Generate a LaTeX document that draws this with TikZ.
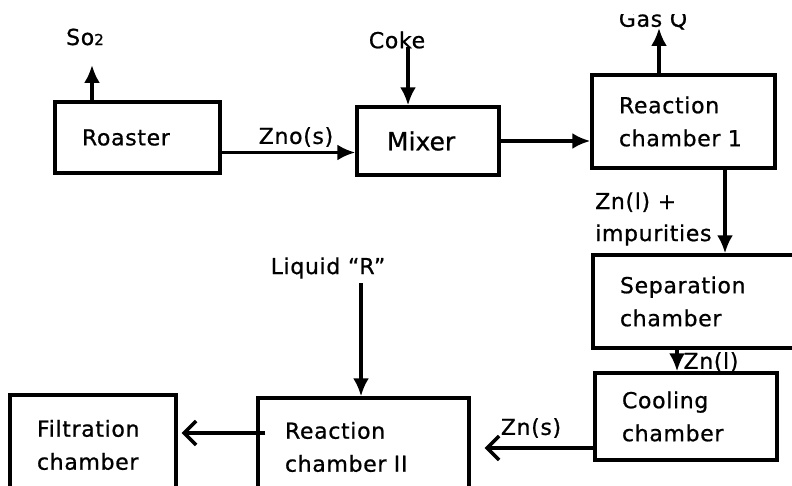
\documentclass[tikz,border=0pt]{standalone}
\usepackage{fontspec}
\newfontfamily\boxfont{DejaVu Sans}[LetterSpace=3, FakeBold=0.8]
\newfontfamily\bigfont{DejaVu Sans}[LetterSpace=0, FakeBold=0.8]
\usetikzlibrary{arrows.meta, positioning}

\begin{document}
\begin{tikzpicture}[
    x=1pt, y=-1pt,
    box/.style={rectangle, draw, line width=3.4pt, inner xsep=27pt, inner ysep=0pt,
                align=left, font=\boxfont\fontsize{22}{33}\selectfont},
    lbl/.style={inner sep=0pt, align=left, font=\boxfont\fontsize{22}{32}\selectfont},
    arr/.style={-{Latex[length=18pt, width=16pt]}, line width=3.4pt},
    back/.style={-{Straight Barb[length=12pt, width=24pt]}, line width=3.4pt}
]
  \useasboundingbox (0,0) rectangle (792,486);
  \clip (0,0) rectangle (792,486);

  % process boxes
  \node[box, text width=111pt, minimum height=71pt] (roaster) at (137.5,137.5) {Roaster};
  \node[box, text width=82pt, inner xsep=30pt, minimum height=68pt,
        font=\bigfont\fontsize{25}{28}\selectfont]  (mixer)   at (428,141)     {Mixer};
  \node[box, text width=129pt, minimum height=93pt] (rc1)     at (683.5,121.5) {Reaction\\chamber 1};
  \node[box, text width=153pt, minimum height=93pt] (sep)     at (696.5,301.5) {Separation\\chamber};
  \node[box, text width=128pt, minimum height=87pt] (cool)    at (686,416.5)   {Cooling\\chamber};
  \node[box, text width=157pt, minimum height=98pt] (rc2)     at (363.5,447)   {Reaction\\chamber II};
  \node[box, text width=112pt, minimum height=100pt] (filt)   at (93,445)      {Filtration\\chamber};

  % stream labels
  \node[lbl] (so2)  at (85,37)   {So{\fontsize{15}{15}\selectfont 2}};
  \node[lbl] (coke) at (397,40)  {Coke};
  \begin{scope}
    \clip (560,15) rectangle (760,60);
    \node[lbl] (gasq) at (653,20) {Gas Q};
  \end{scope}
  \node[lbl] (zno)  at (296,137) {Zno(s)};
  \node[lbl, anchor=west] (znimp) at (595,219) {Zn(l) +\\impurities};
  \node[lbl] (liqr) at (328,268) {Liquid “R”};
  \node[lbl] (znl)  at (711,362) {Zn(l)};
  \node[lbl] (zns)  at (531,428) {Zn(s)};

  \coordinate (so2tip)   at (92,65);
  \coordinate (cokefoot) at (408,47);
  \coordinate (gastip)   at (659,28);
  \coordinate (liqfoot)  at (361,283);

  % flows
  \draw[arr] (roaster.north -| so2tip) -- (so2tip);
  \draw[arr] ([yshift=-15pt]roaster.east) -- ([yshift=-15pt]roaster.east -| mixer.west);
  \draw[arr] (cokefoot) -- (cokefoot |- mixer.north);
  \draw[arr] (mixer.east) -- (mixer.east -| rc1.west);
  \draw[arr] (rc1.north -| gastip) -- (gastip);
  \draw[arr] ([xshift=41.5pt]rc1.south) -- ([xshift=41.5pt]rc1.south |- sep.north);
  \draw[arr] ([xshift=-19.5pt]sep.south) -- ([xshift=-19.5pt]sep.south |- cool.north);
  \draw[back, shorten >=14pt] ([yshift=-31.5pt]cool.west) -- ([yshift=-31.5pt]cool.west -| rc2.east);
  \draw[arr] (liqfoot) -- (liqfoot |- rc2.north);
  \draw[back, shorten <=-9pt, shorten >=4pt] ([yshift=14pt]rc2.west) -- ([yshift=14pt]rc2.west -| filt.east);
\end{tikzpicture}
\end{document}
